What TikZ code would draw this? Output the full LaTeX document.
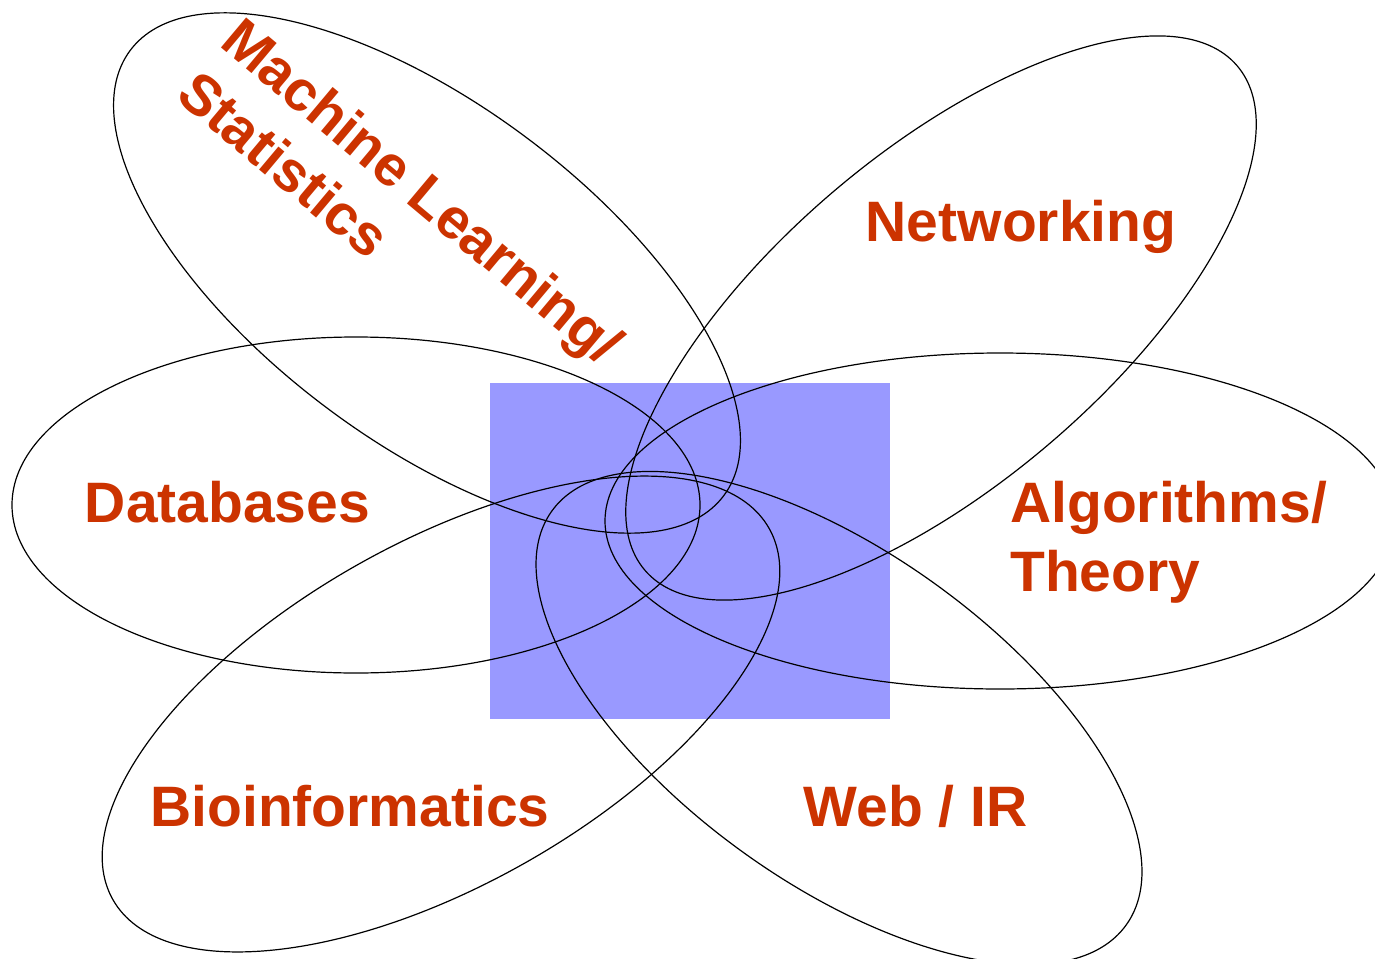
\documentclass[tikz,border=0pt]{standalone}
\usepackage{fontspec}
\setmainfont{Liberation Sans}
\usetikzlibrary{positioning}
\definecolor{labelred}{HTML}{CC3300}
\definecolor{corebox}{HTML}{9999FF}

\begin{document}
\begin{tikzpicture}[x=1pt,y=-1pt,
  petal/.style={draw=black,line width=1.2pt},
  lbl/.style={text=labelred,font=\fontsize{57}{69}\selectfont\bfseries,inner sep=0pt}]
  \useasboundingbox (0,0) rectangle (1375,958);
  \fill[white] (0,0) rectangle (1375,958);
  % shared core
  \fill[corebox] (490,383) rectangle (890,719);
  % the six petals
  \draw[petal] (356,505) ellipse [x radius=344,y radius=168];
  \draw[petal] (1000,521) ellipse [x radius=395,y radius=168];
  \draw[petal,rotate around={-36.9:(427,273)}] (427,273) ellipse [x radius=371,y radius=168];
  \draw[petal,rotate around={40.4:(941,318)}] (941,318) ellipse [x radius=389,y radius=166];
  \draw[petal,rotate around={29.5:(441,714)}] (441,714) ellipse [x radius=377,y radius=171];
  \draw[petal,rotate around={-35.8:(839,718)}] (839,718) ellipse [x radius=354,y radius=165];
  % labels
  \foreach \n/\x/\y/\t in {db/227.5/522/Databases, net/1021/241.7/Networking,
      bio/350/826/Bioinformatics, web/915.5/826.7/{Web / IR}} {
    \node[lbl,anchor=base] (\n) at (\x,\y) {\t};
  }
  \node[lbl,anchor=base west] (algo) at (1010,522.7) {Algorithms/};
  \node[lbl,anchor=base west] (theory) at (1010,591.7) {Theory};
  \node[lbl,anchor=base west,rotate=-40] (ml) at (218,45) {Machine Learning/};
  \node[lbl,anchor=base west,rotate=-40] (stats) at (174,98) {Statistics};
\end{tikzpicture}
\end{document}
